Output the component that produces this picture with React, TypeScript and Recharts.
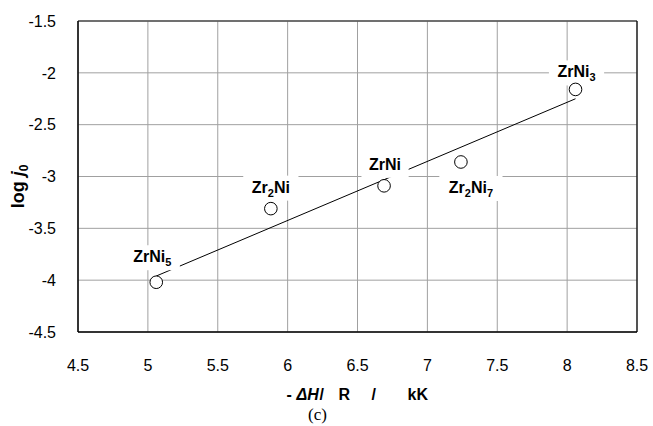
import { ScatterChart, Scatter, XAxis, YAxis, CartesianGrid, ReferenceLine, Label } from 'recharts';

// measured points: -ΔH/R (kK) vs log j0
const alloys = ['ZrNi_5', 'Zr_2Ni', 'ZrNi', 'Zr_2Ni_7', 'ZrNi_3'];
const dHR = [5.06, 5.88, 6.69, 7.24, 8.06];
const logJ0 = [-4.02, -3.31, -3.09, -2.86, -2.16];

// least-squares line end points as drawn
const fitX = [5.06, 8.06];
const fitY = [-3.96, -2.25];

const xTicks = [4.5, 5, 5.5, 6, 6.5, 7, 7.5, 8, 8.5];
const yTicks = [-4.5, -4, -3.5, -3, -2.5, -2, -1.5];

const points = alloys.map((name, i) => ({ name, x: dHR[i], y: logJ0[i] }));
const fitLine = fitX.map((x, i) => ({ x, y: fitY[i] }));

// label placement relative to the marker (dx, dy of label centre)
const labelOffset: Record<string, [number, number]> = {
  ZrNi_5: [-4, -25],
  Zr_2Ni: [0, -21],
  ZrNi: [1, -21],
  Zr_2Ni_7: [10, 26],
  ZrNi_3: [1, -17],
};

const FONT = '"Liberation Sans", Arial, sans-serif';

function chemParts(name: string) {
  const parts: { t: string; sub: boolean }[] = [];
  const re = /_(\d+)|([^_]+)/g;
  let m;
  while ((m = re.exec(name))) {
    if (m[1]) parts.push({ t: m[1], sub: true });
    else parts.push({ t: m[2], sub: false });
  }
  return parts;
}

function PointShape(props: any) {
  const { cx, cy, payload } = props;
  const [dx, dy] = labelOffset[payload.name] || [0, -20];
  const parts = chemParts(payload.name);
  const w = parts.reduce((s, p) => s + (p.sub ? 8 : p.t.length * 9.8), 0) + 8;
  const lx = cx + dx;
  const ly = cy + dy;
  return (
    <g>
      <rect x={lx - w / 2} y={ly - 12} width={w} height={25} fill="#fff" />
      <text x={lx} y={ly + 5} textAnchor="middle" fontFamily={FONT} fontWeight="bold" fontSize={16} fill="#000">
        {parts.map((p, i) =>
          p.sub ? (
            <tspan key={i} fontSize={11} dy={4}>{p.t}</tspan>
          ) : (
            <tspan key={i} dy={i > 0 && parts[i - 1].sub ? -4 : 0}>{p.t}</tspan>
          )
        )}
      </text>
      <circle cx={cx} cy={cy} r={6.3} fill="#fff" stroke="#000" strokeWidth={1} />
    </g>
  );
}

function XTitle(props: any) {
  const { viewBox } = props;
  const c = viewBox.x + viewBox.width / 2;
  const y = viewBox.y + 68;
  const st = { fontFamily: FONT, fontWeight: 'bold' as const, fontSize: 16, fill: '#000' };
  return (
    <g>
      <text x={c - 71} y={y} {...st}>-</text>
      <text x={c - 61} y={y} {...st} fontStyle="italic">ΔH</text>
      <text x={c - 38} y={y} {...st}>/</text>
      <text x={c - 19} y={y} {...st}>R</text>
      <text x={c + 14} y={y} {...st}>/</text>
      <text x={c + 50} y={y} {...st}>kK</text>
    </g>
  );
}

function YTitle(props: any) {
  const { viewBox } = props;
  const x = viewBox.x + 16;
  const y = viewBox.y + viewBox.height / 2 + 10;
  return (
    <text x={x} y={y} transform={`rotate(-90, ${x}, ${y})`} textAnchor="middle" fontFamily={FONT} fontWeight="bold" fontSize={18} fill="#000">
      <tspan>{'log '}</tspan>
      <tspan fontStyle="italic">j</tspan>
      <tspan fontSize={12} dy={4}>0</tspan>
    </text>
  );
}

export default function App() {
  const tick = { fontFamily: FONT, fontSize: 16, fill: '#000' };
  return (
    <div style={{ position: 'absolute', left: 0, top: 0, width: 653, height: 426, background: '#fff' }}>
      <ScatterChart width={653} height={426} margin={{ top: 21, right: 16, bottom: 34, left: 8 }}>
        <CartesianGrid stroke="#a0a0a0" strokeWidth={1} />
        <XAxis
          type="number"
          dataKey="x"
          domain={[4.5, 8.5]}
          ticks={xTicks}
          tick={tick}
          tickLine={false}
          tickMargin={22}
          height={60}
          axisLine={{ stroke: '#000', strokeWidth: 1.5 }}
        >
          <Label content={<XTitle />} />
        </XAxis>
        <YAxis
          type="number"
          dataKey="y"
          domain={[-4.5, -1.5]}
          ticks={yTicks}
          tick={tick}
          tickLine={false}
          tickMargin={16}
          width={70}
          axisLine={{ stroke: '#000', strokeWidth: 1.5 }}
        >
          <Label content={<YTitle />} />
        </YAxis>
        <ReferenceLine y={-1.5} stroke="#505050" strokeWidth={1.5} />
        <ReferenceLine x={8.5} stroke="#000" strokeWidth={1.2} />
        <Scatter data={fitLine} line={{ stroke: '#000', strokeWidth: 1 }} shape={() => <g />} isAnimationActive={false} />
        <Scatter data={points} shape={<PointShape />} isAnimationActive={false} />
      </ScatterChart>
      <div style={{ position: 'absolute', left: 0, width: 635, top: 405, textAlign: 'center', fontFamily: '"Liberation Serif", "Times New Roman", serif', fontSize: 17 }}>
        (c)
      </div>
    </div>
  );
}
